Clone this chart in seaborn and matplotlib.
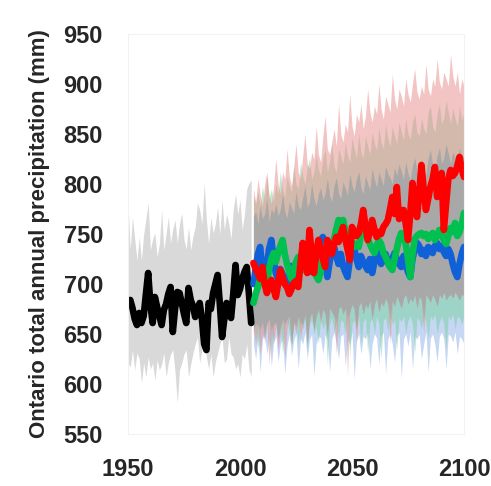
import numpy as np
import pandas as pd
import matplotlib
matplotlib.use("Agg")
import matplotlib.pyplot as plt
import seaborn as sns
from matplotlib import font_manager

# ---------------- data ----------------
hist_years = list(range(1950, 2006))
hist_mean = [681, 684, 676, 665, 659, 671, 661, 668, 690, 711,
             680, 661, 687, 677, 668, 659, 674, 680, 690, 697,
             652, 675, 692, 691, 681, 670, 661, 696, 684, 678,
             667, 675, 681, 665, 640, 634, 681, 675, 691, 700,
             709, 680, 647, 665, 681, 672, 666, 690, 719, 689,
             695, 705, 712, 717, 690, 661]
hist_upper = [781, 734, 767, 745, 724, 747, 724, 750, 765, 781,
              734, 745, 751, 727, 740, 774, 734, 750, 767, 741,
              755, 764, 741, 760, 771, 744, 735, 757, 734, 748,
              757, 781, 774, 760, 801, 764, 740, 767, 751, 760,
              777, 750, 784, 754, 770, 760, 745, 775, 790, 770,
              784, 754, 770, 795, 801, 804]
hist_lower = [621, 617, 634, 614, 631, 625, 601, 621, 607, 627,
              615, 621, 604, 624, 614, 620, 631, 607, 621, 630,
              634, 612, 581, 614, 621, 630, 634, 607, 620, 631,
              640, 647, 621, 635, 647, 627, 615, 630, 607, 622,
              631, 640, 647, 621, 625, 647, 630, 627, 615, 620,
              607, 630, 625, 640, 615, 607]

fut_years = list(range(2006, 2101))
blue_mean = [700, 715, 730, 737, 712, 701, 720, 735, 744, 725,
             711, 705, 715, 710, 700, 697, 708, 718, 712, 705,
             720, 728, 715, 722, 730, 725, 712, 720, 735, 740,
             744, 747, 725, 707, 722, 733, 737, 728, 720, 730,
             718, 712, 707, 725, 741, 735, 725, 717, 728, 722,
             718, 714, 725, 711, 722, 734, 728, 720, 725, 730,
             722, 717, 725, 731, 725, 720, 717, 728, 720, 712,
             707, 725, 735, 741, 738, 730, 734, 728, 737, 735,
             731, 738, 741, 735, 738, 732, 728, 735, 730, 720,
             712, 707, 720, 730, 737]
green_mean = [681, 690, 697, 705, 714, 708, 701, 715, 725, 731,
              722, 731, 738, 744, 730, 720, 712, 705, 714, 722,
              727, 720, 714, 720, 714, 727, 720, 714, 708, 704,
              712, 725, 735, 741, 733, 738, 745, 755, 764, 758,
              764, 754, 748, 745, 742, 737, 740, 737, 750, 764,
              752, 745, 740, 735, 731, 738, 744, 740, 731, 727,
              722, 717, 714, 725, 735, 745, 751, 748, 740, 725,
              707, 730, 745, 748, 750, 751, 748, 750, 745, 748,
              751, 744, 748, 754, 750, 744, 740, 748, 756, 752,
              761, 748, 752, 760, 771]
red_mean = [721, 715, 711, 705, 717, 700, 691, 698, 704, 695,
            687, 700, 714, 706, 700, 697, 690, 695, 701, 703,
            697, 720, 741, 725, 711, 754, 730, 711, 728, 744,
            735, 725, 717, 744, 738, 730, 740, 747, 742, 750,
            757, 745, 735, 724, 757, 752, 748, 751, 760, 774,
            758, 744, 752, 764, 755, 747, 752, 750, 757, 760,
            764, 775, 787, 770, 797, 765, 770, 774, 760, 744,
            770, 801, 785, 767, 790, 819, 795, 774, 785, 797,
            805, 817, 787, 800, 811, 754, 780, 805, 814, 808,
            811, 818, 827, 815, 807]

blue_upper = [768, 772, 760, 778, 765, 770, 785, 762, 775, 770,
              780, 768, 774, 790, 772, 766, 782, 776, 770, 792,
              778, 774, 786, 798, 776, 782, 800, 785, 778, 790,
              796, 784, 790, 805, 788, 782, 798, 806, 790, 785,
              802, 795, 788, 810, 798, 792, 805, 812, 796, 790,
              808, 800, 794, 815, 804, 796, 812, 805, 798, 818,
              810, 806, 800, 816, 808, 820, 812, 804, 822, 810,
              804, 818, 826, 812, 808, 824, 816, 808, 826, 834,
              818, 812, 828, 836, 820, 826, 840, 830, 820, 832,
              826, 818, 836, 824, 830]
blue_lower = [640, 625, 648, 612, 645, 650, 630, 645, 618, 642,
              648, 622, 640, 646, 610, 638, 650, 628, 644, 650,
              615, 645, 640, 652, 625, 644, 650, 608, 640, 648,
              646, 630, 650, 644, 612, 645, 652, 640, 625, 648,
              650, 618, 645, 640, 652, 605, 644, 650, 630, 648,
              645, 652, 615, 640, 650, 646, 620, 648, 652, 610,
              645, 650, 640, 622, 648, 652, 606, 645, 650, 638,
              652, 615, 648, 645, 650, 625, 640, 652, 612, 646,
              650, 640, 622, 648, 652, 645, 615, 650, 648, 642,
              652, 630, 648, 645, 640]
green_upper = [788, 780, 792, 778, 798, 784, 808, 786, 795, 782,
               800, 790, 812, 795, 786, 808, 798, 792, 818, 800,
               795, 822, 808, 800, 816, 826, 805, 812, 830, 815,
               808, 826, 835, 812, 822, 840, 818, 812, 835, 828,
               820, 842, 828, 822, 846, 835, 826, 850, 832, 826,
               848, 838, 830, 852, 840, 834, 856, 842, 835, 860,
               845, 838, 858, 848, 840, 862, 852, 844, 866, 850,
               845, 862, 870, 852, 848, 866, 856, 850, 872, 878,
               858, 852, 870, 880, 860, 866, 884, 872, 860, 876,
               866, 858, 878, 864, 872]
green_lower = [650, 660, 635, 655, 662, 640, 658, 665, 630, 660,
               662, 645, 658, 630, 660, 665, 650, 638, 662, 658,
               640, 662, 655, 665, 632, 660, 664, 650, 658, 640,
               665, 655, 662, 620, 660, 666, 652, 662, 645, 664,
               662, 650, 666, 628, 660, 664, 655, 668, 640, 662,
               666, 630, 662, 665, 650, 668, 660, 625, 664, 666,
               652, 668, 660, 664, 635, 666, 662, 668, 650, 664,
               668, 660, 630, 666, 664, 655, 668, 662, 645, 668,
               664, 670, 650, 662, 668, 660, 635, 668, 664, 670,
               655, 668, 666, 660, 668]
red_upper = [795, 782, 805, 790, 778, 800, 812, 788, 780, 798,
             825, 800, 790, 812, 805, 835, 808, 798, 818, 840,
             812, 805, 828, 850, 820, 815, 832, 825, 858, 830,
             822, 848, 868, 835, 830, 842, 855, 838, 880, 850,
             842, 860, 852, 890, 858, 848, 870, 862, 880, 855,
             868, 895, 872, 862, 878, 870, 900, 875, 865, 888,
             880, 872, 910, 885, 875, 895, 888, 878, 905, 890,
             882, 900, 915, 892, 885, 898, 890, 920, 895, 888,
             905, 898, 925, 902, 895, 912, 905, 898, 930, 908,
             898, 912, 890, 905, 898]
red_lower = [655, 640, 660, 630, 650, 645, 662, 620, 655, 640,
             660, 635, 650, 665, 625, 655, 668, 640, 660, 650,
             668, 645, 660, 670, 640, 665, 672, 655, 668, 675,
             660, 675, 670, 650, 676, 672, 668, 630, 675, 678,
             670, 676, 608, 672, 680, 675, 640, 678, 682, 670,
             680, 676, 684, 665, 680, 686, 672, 682, 678, 686,
             680, 640, 684, 678, 688, 682, 676, 686, 690, 680,
             686, 682, 690, 676, 688, 684, 650, 690, 686, 682,
             690, 685, 678, 690, 686, 692, 684, 688, 690, 686,
             692, 688, 684, 690, 688]

x_ticks = [1950, 2000, 2050, 2100]
y_ticks = [550, 600, 650, 700, 750, 800, 850, 900, 950]
y_label = "Ontario total annual precipitation (mm)"

# ---------------- style ----------------
sns.set_theme(style="white")
avail = {f.name for f in font_manager.fontManager.ttflist}
fam = [f for f in ["Liberation Sans Narrow", "Liberation Sans", "DejaVu Sans"] if f in avail]
plt.rcParams["font.family"] = fam

fig = plt.figure(figsize=(4.91, 4.86), dpi=100)
ax = fig.add_axes([128 / 491, 1 - 434 / 486, 336 / 491, 400 / 486])

# bands
ax.fill_between(hist_years, hist_lower, hist_upper, color="#d9d9d9", lw=0)
ax.fill_between(fut_years, blue_lower, blue_upper, color="#7fa8e6", alpha=0.45, lw=0)
ax.fill_between(fut_years, green_lower, green_upper, color="#70d095", alpha=0.45, lw=0)
ax.fill_between(fut_years, red_lower, red_upper, color="#e88a8a", alpha=0.5, lw=0)
inner_lo = np.maximum.reduce([np.array(blue_lower), np.array(green_lower), np.array(red_lower)])
inner_hi = np.minimum.reduce([np.array(blue_upper), np.array(green_upper), np.array(red_upper)])
ax.fill_between(fut_years, inner_lo, inner_hi, where=inner_hi > inner_lo,
                color="#a8a8a8", lw=0, interpolate=True)

# lines
df = pd.concat([
    pd.DataFrame({"year": hist_years, "value": hist_mean, "series": "hist"}),
    pd.DataFrame({"year": fut_years, "value": blue_mean, "series": "blue"}),
    pd.DataFrame({"year": fut_years, "value": green_mean, "series": "green"}),
    pd.DataFrame({"year": fut_years, "value": red_mean, "series": "red"}),
])
pal = {"hist": "#000000", "blue": "#1060d8", "green": "#00c050", "red": "#ff0000"}
sns.lineplot(data=df, x="year", y="value", hue="series",
             hue_order=["hist", "blue", "green", "red"], palette=pal,
             linewidth=4.8, legend=False, ax=ax, estimator=None,
             solid_joinstyle="round", solid_capstyle="round")

ax.set_xlim(1950, 2100)
ax.set_ylim(550, 950)
ax.set_xticks(x_ticks)
ax.set_yticks(y_ticks)
ax.tick_params(axis="both", length=0, labelsize=17)
ax.tick_params(axis="y", pad=18)
ax.tick_params(axis="x", pad=17)
for lab in ax.get_xticklabels() + ax.get_yticklabels():
    lab.set_fontweight("bold")
ax.set_xlabel("")
ax.set_ylabel(y_label, fontsize=16, fontweight="bold", labelpad=10)
for s in ax.spines.values():
    s.set_color("#f2f2f2")
    s.set_linewidth(0.8)

fig.savefig("out.png", dpi=100)
